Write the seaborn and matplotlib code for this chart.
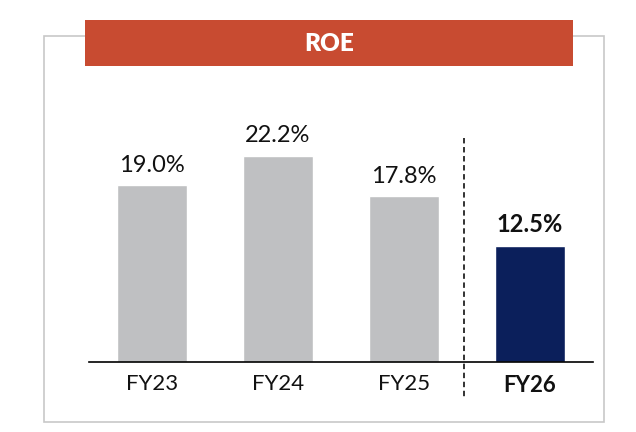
import matplotlib
matplotlib.use("Agg")
import matplotlib.pyplot as plt
from matplotlib.patches import Rectangle
import seaborn as sns
import pandas as pd

# data
years = ["FY23", "FY24", "FY25", "FY26"]
roe = [19.0, 22.2, 17.8, 12.5]
bar_colors = ["#BFC0C2", "#BFC0C2", "#BFC0C2", "#0B1F5B"]
title = "ROE"

sns.set_style("white")
plt.rcParams["font.family"] = ["Lato", "DejaVu Sans"]

W, H = 636, 432
fig = plt.figure(figsize=(W / 100, H / 100), dpi=100)

def fx(px):
    return px / W

def fy(py):
    return 1 - py / H

# axes: baseline at y=362, x from 89 to 593
ax = fig.add_axes([fx(89), fy(362), fx(593) - fx(89), fy(100) - fy(362)])

df = pd.DataFrame({"year": years, "roe": roe})
sns.barplot(data=df, x="year", y="roe", hue="year", palette=bar_colors,
            width=0.556, legend=False, ax=ax, saturation=1)

ppu = 9.3  # pixels per percentage point
ax.set_xlim(-0.5, 3.5)
ax.set_ylim(0, 262 / ppu)
ax.set_xlabel("")
ax.set_ylabel("")
ax.set_yticks([])
sns.despine(ax=ax, left=True)
ax.spines["bottom"].set_color("black")
ax.spines["bottom"].set_linewidth(1.2)
ax.tick_params(axis="x", length=0, pad=9, labelsize=16, colors="#111111")

for i, lbl in enumerate(ax.get_xticklabels()):
    if i == len(years) - 1:
        lbl.set_fontweight("bold")

for i, v in enumerate(roe):
    ax.annotate(f"{v:.1f}%", (i, v), xytext=(0, 7), textcoords="offset points",
                ha="center", va="bottom", fontsize=17, color="#111111",
                fontweight="bold" if i == len(roe) - 1 else "normal")

# dashed separator before the forecast year
ax.plot([2.475, 2.475], [(362 - 138) / ppu, -(397 - 362) / ppu],
        color="#222222", linestyle=(0, (3, 2)), linewidth=1.3, clip_on=False)

# outer frame and title banner
fig.patches.append(Rectangle((fx(43.5), fy(421.5)), fx(603.5) - fx(43.5), fy(35.5) - fy(421.5),
                             transform=fig.transFigure, fill=False, edgecolor="#C8C8C8",
                             linewidth=1.2, zorder=0))
fig.patches.append(Rectangle((fx(85), fy(65.5)), fx(573) - fx(85), fy(20) - fy(65.5),
                             transform=fig.transFigure, facecolor="#C84B31",
                             edgecolor="none", zorder=1))
fig.text(fx(329), fy(44), title, ha="center", va="center", color="white",
         fontsize=17.5, fontweight="heavy")

fig.savefig("out.png", dpi=100)
